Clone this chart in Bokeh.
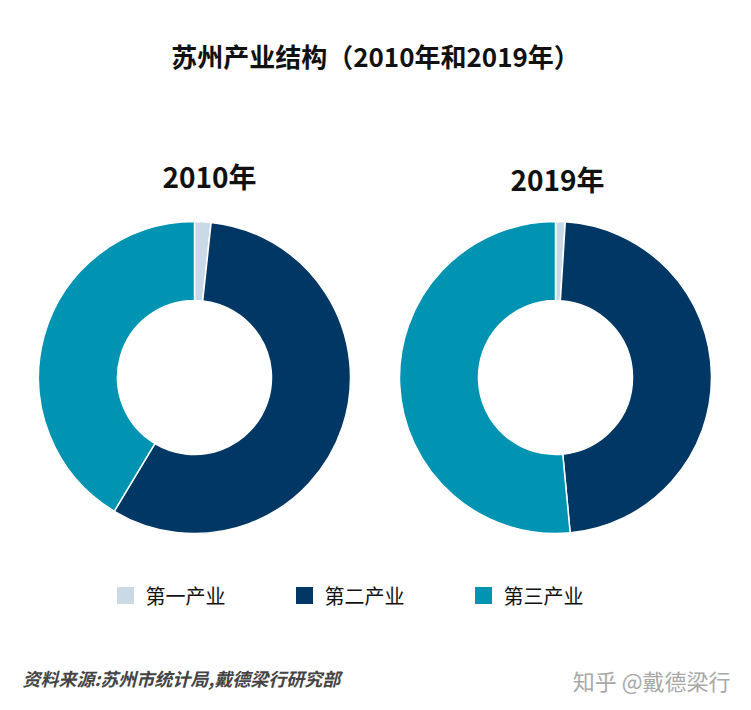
from math import pi
from bokeh.plotting import figure
from bokeh.models import Range1d, ColumnDataSource
from bokeh.core.properties import value
from bokeh.embed import file_html
from bokeh.resources import INLINE

# ---- data ----
categories = ["第一产业", "第二产业", "第三产业"]
share_2010 = [1.7, 56.9, 41.4]
share_2019 = [1.0, 47.5, 51.5]
years = ["2010年", "2019年"]
colors = ["#c9d9e5", "#003764", "#0093b2"]

title = "苏州产业结构（2010年和2019年）"
source_note = "资料来源:苏州市统计局,戴德梁行研究部"
watermark = "知乎 @戴德梁行"

W, H = 735, 694
FONT = "Noto Sans CJK SC"

p = figure(width=W, height=H, output_backend="svg", toolbar_location=None,
           x_range=Range1d(0, W), y_range=Range1d(0, H),
           min_border=0, outline_line_color=None)
p.axis.visible = False
p.grid.visible = False
p.background_fill_color = "white"
p.border_fill_color = "white"

def sy(y):  # screen y -> data y
    return H - y

centers = [(194, 377), (555, 377)]
R_OUT, R_IN = 156, 77

for (cx, cy), shares, yr, ly in zip(centers, [share_2010, share_2019], years, [175, 178]):
    tot = sum(shares)
    starts, ends = [], []
    acc = 0.0
    for s in shares:
        starts.append(pi / 2 - 2 * pi * acc / tot)
        acc += s
        ends.append(pi / 2 - 2 * pi * acc / tot)
    src = ColumnDataSource(dict(x=[cx] * 3, y=[sy(cy)] * 3, start=starts, end=ends,
                                color=colors, cat=categories))
    p.annular_wedge(x="x", y="y", inner_radius=R_IN, outer_radius=R_OUT,
                    start_angle="start", end_angle="end", direction="clock",
                    fill_color="color", line_color="white", line_width=1.5, source=src)
    p.text(x=[cx + 15 if yr == "2010年" else cx + 2], y=[sy(ly)], text=[yr],
           text_font=value(FONT), text_font_style="bold", text_font_size="28px",
           text_align="center", text_baseline="middle", text_color="#111111")

# title
p.text(x=[375], y=[sy(55)], text=[title], text_font=value(FONT), text_font_style="bold",
       text_font_size="26px", text_align="center", text_baseline="middle", text_color="#111111")

# legend
leg_x = [125, 304, 483]
p.rect(x=leg_x, y=[sy(595)] * 3, width=17, height=17, fill_color=colors, line_color=None)
p.text(x=[x + 20 for x in leg_x], y=[sy(595)] * 3, text=categories, text_font=value(FONT),
       text_font_size="20px", text_align="left", text_baseline="middle", text_color="#111111")

# source
p.text(x=[22], y=[sy(677)], text=[source_note], text_font=value(FONT), text_font_style="bold italic",
       text_font_size="18px", text_align="left", text_baseline="middle", text_color="#444444")
p.text(x=[730], y=[sy(679)], text=[watermark], text_font=value(FONT),
       text_font_size="22px", text_align="right", text_baseline="middle", text_color="#a8a8a8")

open("out.html", "w").write(file_html(p, INLINE))
